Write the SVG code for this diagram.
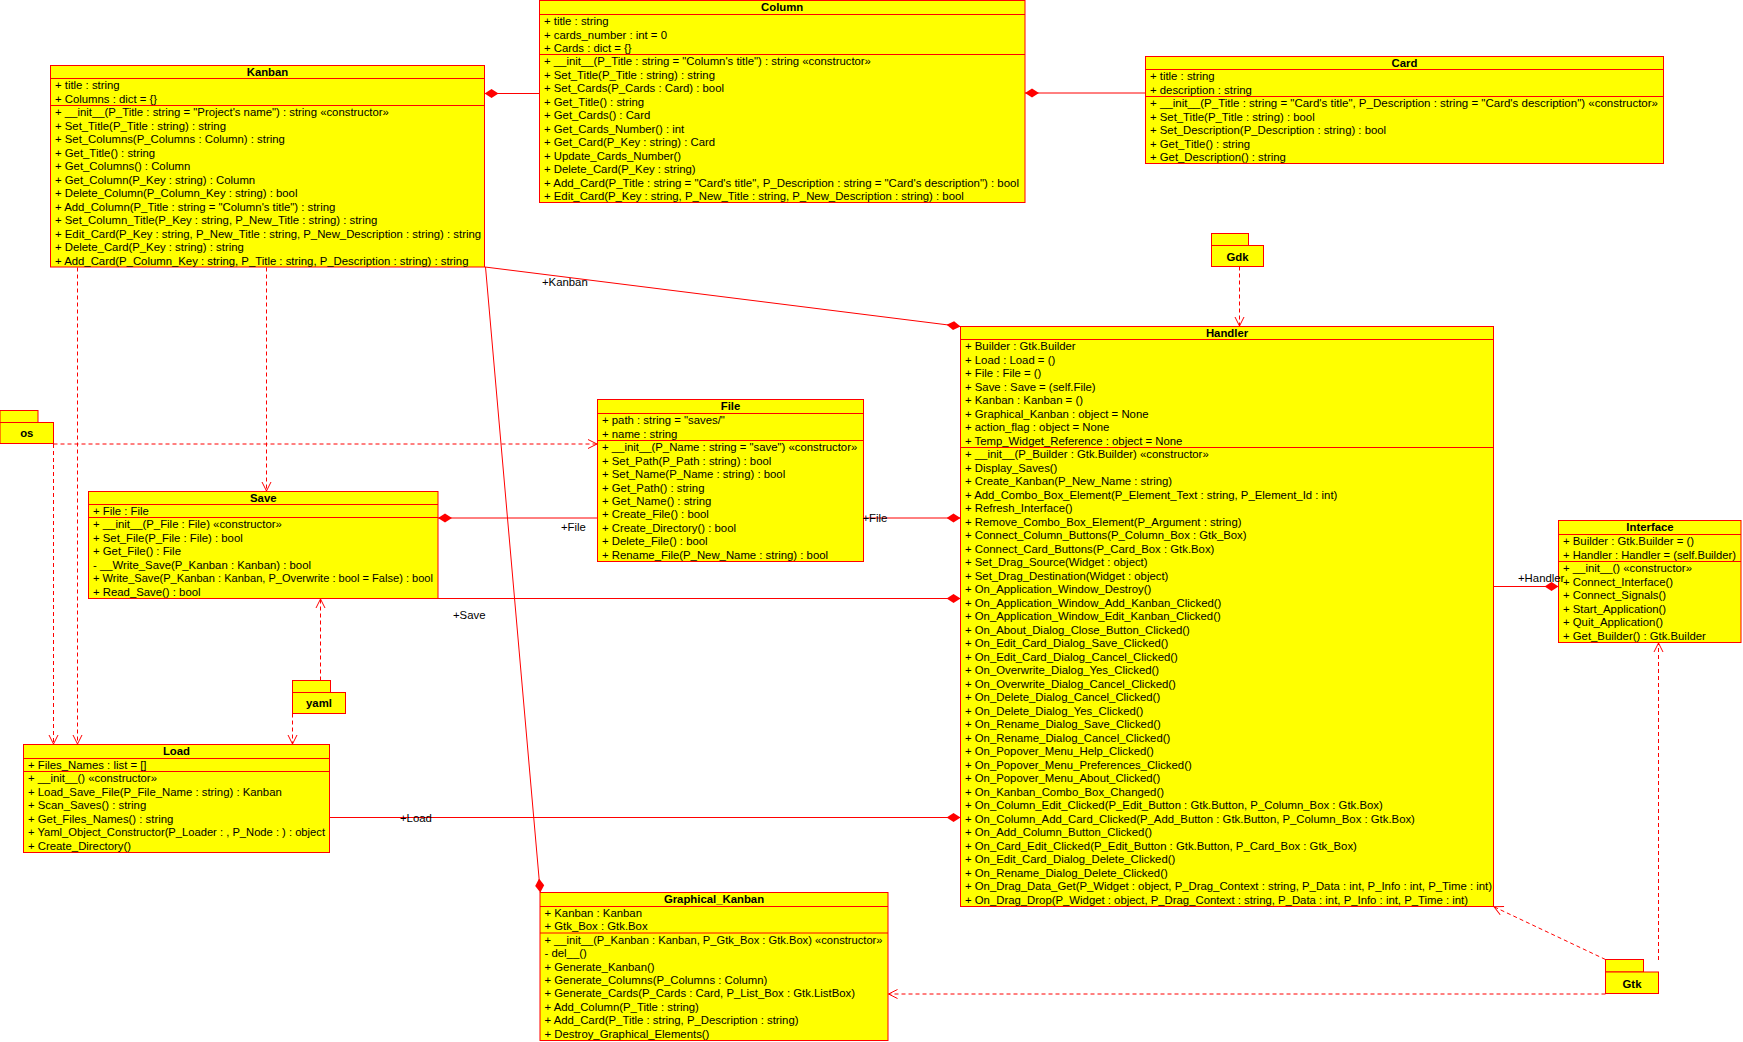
<svg xmlns="http://www.w3.org/2000/svg" width="1743" height="1042" viewBox="0 0 1743 1042">
<style>
.box{fill:#ffff00;stroke:#ff0000;stroke-width:1}
.sep{stroke:#ff0000;stroke-width:1}
.t{font-family:"Liberation Sans",Arial,sans-serif;font-size:11.35px;fill:#000}
.h{font-weight:bold;text-anchor:middle}
.assoc{stroke:#ff0000;stroke-width:1;fill:none;marker-end:url(#diamond)}
.dep{stroke:#ff0000;stroke-width:1;fill:none;stroke-dasharray:4 3;marker-end:url(#open)}
</style>
<defs>
<marker id="diamond" viewBox="0 -5 14 10" markerWidth="14" markerHeight="10" refX="14" refY="0" orient="auto" markerUnits="userSpaceOnUse">
<path d="M0,0 L7,-4.5 L14,0 L7,4.5 Z" fill="#ff0000"/>
</marker>
<marker id="open" viewBox="-10 -6 11 12" markerWidth="11" markerHeight="12" refX="0" refY="0" orient="auto" markerUnits="userSpaceOnUse">
<path d="M-9,-4.5 L0,0 L-9,4.5" fill="none" stroke="#ff0000" stroke-width="1" stroke-dasharray="none"/>
</marker>
</defs>
<rect width="1743" height="1042" fill="#ffffff"/>

<!-- Kanban -->
<g id="kanban">
<rect class="box" x="50.5" y="65.5" width="434" height="201.5"/>
<line class="sep" x1="50.5" y1="78.5" x2="484.5" y2="78.5"/>
<line class="sep" x1="50.5" y1="105.5" x2="484.5" y2="105.5"/>
<text class="t h" x="267.5" y="76">Kanban</text>
<text class="t"><tspan x="55" y="89.3">+ title : string</tspan><tspan x="55" dy="13.3">+ Columns : dict = {}</tspan></text>
<text class="t"><tspan x="55" y="116.1">+ __init__(P_Title : string = "Project's name") : string «constructor»</tspan><tspan x="55" dy="13.5">+ Set_Title(P_Title : string) : string</tspan><tspan x="55" dy="13.5">+ Set_Columns(P_Columns : Column) : string</tspan><tspan x="55" dy="13.5">+ Get_Title() : string</tspan><tspan x="55" dy="13.5">+ Get_Columns() : Column</tspan><tspan x="55" dy="13.5">+ Get_Column(P_Key : string) : Column</tspan><tspan x="55" dy="13.5">+ Delete_Column(P_Column_Key : string) : bool</tspan><tspan x="55" dy="13.5">+ Add_Column(P_Title : string = "Column's title") : string</tspan><tspan x="55" dy="13.5">+ Set_Column_Title(P_Key : string, P_New_Title : string) : string</tspan><tspan x="55" dy="13.5">+ Edit_Card(P_Key : string, P_New_Title : string, P_New_Description : string) : string</tspan><tspan x="55" dy="13.5">+ Delete_Card(P_Key : string) : string</tspan><tspan x="55" dy="13.5">+ Add_Card(P_Column_Key : string, P_Title : string, P_Description : string) : string</tspan></text>
</g>

<!-- Column -->
<g id="column">
<rect class="box" x="539.5" y="0.5" width="485.5" height="202"/>
<line class="sep" x1="539.5" y1="14.5" x2="1025" y2="14.5"/>
<line class="sep" x1="539.5" y1="54.5" x2="1025" y2="54.5"/>
<text class="t h" x="782.2" y="11">Column</text>
<text class="t"><tspan x="544" y="25.3">+ title : string</tspan><tspan x="544" dy="13.2">+ cards_number : int = 0</tspan><tspan x="544" dy="13.2">+ Cards : dict = {}</tspan></text>
<text class="t"><tspan x="544" y="65.1">+ __init__(P_Title : string = "Column's title") : string «constructor»</tspan><tspan x="544" dy="13.5">+ Set_Title(P_Title : string) : string</tspan><tspan x="544" dy="13.5">+ Set_Cards(P_Cards : Card) : bool</tspan><tspan x="544" dy="13.5">+ Get_Title() : string</tspan><tspan x="544" dy="13.5">+ Get_Cards() : Card</tspan><tspan x="544" dy="13.5">+ Get_Cards_Number() : int</tspan><tspan x="544" dy="13.5">+ Get_Card(P_Key : string) : Card</tspan><tspan x="544" dy="13.5">+ Update_Cards_Number()</tspan><tspan x="544" dy="13.5">+ Delete_Card(P_Key : string)</tspan></text>
<text class="t" x="544" y="186.6" textLength="475" lengthAdjust="spacingAndGlyphs">+ Add_Card(P_Title : string = "Card's title", P_Description : string = "Card's description") : bool</text>
<text class="t" x="544" y="200.1">+ Edit_Card(P_Key : string, P_New_Title : string, P_New_Description : string) : bool</text>
</g>

<!-- Card -->
<g id="card">
<rect class="box" x="1145.5" y="56.5" width="518" height="107"/>
<line class="sep" x1="1145.5" y1="69.5" x2="1663.5" y2="69.5"/>
<line class="sep" x1="1145.5" y1="96.5" x2="1663.5" y2="96.5"/>
<text class="t h" x="1404.5" y="66.5">Card</text>
<text class="t"><tspan x="1150" y="80">+ title : string</tspan><tspan x="1150" dy="13.5">+ description : string</tspan></text>
<text class="t" x="1150" y="107.1" textLength="508" lengthAdjust="spacingAndGlyphs">+ __init__(P_Title : string = "Card's title", P_Description : string = "Card's description") «constructor»</text>
<text class="t"><tspan x="1150" y="120.6">+ Set_Title(P_Title : string) : bool</tspan><tspan x="1150" dy="13.5">+ Set_Description(P_Description : string) : bool</tspan><tspan x="1150" dy="13.5">+ Get_Title() : string</tspan><tspan x="1150" dy="13.5">+ Get_Description() : string</tspan></text>
</g>

<!-- File -->
<g id="file">
<rect class="box" x="597.5" y="399.5" width="266" height="162"/>
<line class="sep" x1="597.5" y1="413.5" x2="863.5" y2="413.5"/>
<line class="sep" x1="597.5" y1="440.5" x2="863.5" y2="440.5"/>
<text class="t h" x="730.5" y="410">File</text>
<text class="t"><tspan x="602" y="424.4">+ path : string = "saves/"</tspan><tspan x="602" dy="13.5">+ name : string</tspan></text>
<text class="t"><tspan x="602" y="451.4">+ __init__(P_Name : string = "save") «constructor»</tspan><tspan x="602" dy="13.4">+ Set_Path(P_Path : string) : bool</tspan><tspan x="602" dy="13.4">+ Set_Name(P_Name : string) : bool</tspan><tspan x="602" dy="13.4">+ Get_Path() : string</tspan><tspan x="602" dy="13.4">+ Get_Name() : string</tspan><tspan x="602" dy="13.4">+ Create_File() : bool</tspan><tspan x="602" dy="13.4">+ Create_Directory() : bool</tspan><tspan x="602" dy="13.4">+ Delete_File() : bool</tspan><tspan x="602" dy="13.4">+ Rename_File(P_New_Name : string) : bool</tspan></text>
</g>

<!-- Save -->
<g id="save">
<rect class="box" x="88.5" y="491.5" width="349.5" height="107"/>
<line class="sep" x1="88.5" y1="504.5" x2="438" y2="504.5"/>
<line class="sep" x1="88.5" y1="517.5" x2="438" y2="517.5"/>
<text class="t h" x="263.3" y="501.5">Save</text>
<text class="t"><tspan x="93" y="515">+ File : File</tspan></text>
<text class="t"><tspan x="93" y="528.1">+ __init__(P_File : File) «constructor»</tspan><tspan x="93" dy="13.5">+ Set_File(P_File : File) : bool</tspan><tspan x="93" dy="13.5">+ Get_File() : File</tspan><tspan x="93" dy="13.5">- __Write_Save(P_Kanban : Kanban) : bool</tspan></text>
<text class="t" x="93" y="582.1" textLength="340" lengthAdjust="spacingAndGlyphs">+ Write_Save(P_Kanban : Kanban, P_Overwrite : bool = False) : bool</text>
<text class="t" x="93" y="595.6">+ Read_Save() : bool</text>
</g>

<!-- Handler -->
<g id="handler">
<rect class="box" x="960.5" y="326.5" width="533" height="580"/>
<line class="sep" x1="960.5" y1="339.5" x2="1493.5" y2="339.5"/>
<line class="sep" x1="960.5" y1="447.5" x2="1493.5" y2="447.5"/>
<text class="t h" x="1227" y="337">Handler</text>
<text class="t"><tspan x="965" y="350.1">+ Builder : Gtk.Builder</tspan><tspan x="965" dy="13.5">+ Load : Load = ()</tspan><tspan x="965" dy="13.5">+ File : File = ()</tspan><tspan x="965" dy="13.5">+ Save : Save = (self.File)</tspan><tspan x="965" dy="13.5">+ Kanban : Kanban = ()</tspan><tspan x="965" dy="13.5">+ Graphical_Kanban : object = None</tspan><tspan x="965" dy="13.5">+ action_flag : object = None</tspan><tspan x="965" dy="13.5">+ Temp_Widget_Reference : object = None</tspan></text>
<text class="t"><tspan x="965" y="458.1">+ __init__(P_Builder : Gtk.Builder) «constructor»</tspan><tspan x="965" dy="13.5">+ Display_Saves()</tspan><tspan x="965" dy="13.5">+ Create_Kanban(P_New_Name : string)</tspan><tspan x="965" dy="13.5">+ Add_Combo_Box_Element(P_Element_Text : string, P_Element_Id : int)</tspan><tspan x="965" dy="13.5">+ Refresh_Interface()</tspan><tspan x="965" dy="13.5">+ Remove_Combo_Box_Element(P_Argument : string)</tspan><tspan x="965" dy="13.5">+ Connect_Column_Buttons(P_Column_Box : Gtk_Box)</tspan><tspan x="965" dy="13.5">+ Connect_Card_Buttons(P_Card_Box : Gtk.Box)</tspan><tspan x="965" dy="13.5">+ Set_Drag_Source(Widget : object)</tspan><tspan x="965" dy="13.5">+ Set_Drag_Destination(Widget : object)</tspan><tspan x="965" dy="13.5">+ On_Application_Window_Destroy()</tspan><tspan x="965" dy="13.5">+ On_Application_Window_Add_Kanban_Clicked()</tspan><tspan x="965" dy="13.5">+ On_Application_Window_Edit_Kanban_Clicked()</tspan><tspan x="965" dy="13.5">+ On_About_Dialog_Close_Button_Clicked()</tspan><tspan x="965" dy="13.5">+ On_Edit_Card_Dialog_Save_Clicked()</tspan><tspan x="965" dy="13.5">+ On_Edit_Card_Dialog_Cancel_Clicked()</tspan><tspan x="965" dy="13.5">+ On_Overwrite_Dialog_Yes_Clicked()</tspan><tspan x="965" dy="13.5">+ On_Overwrite_Dialog_Cancel_Clicked()</tspan><tspan x="965" dy="13.5">+ On_Delete_Dialog_Cancel_Clicked()</tspan><tspan x="965" dy="13.5">+ On_Delete_Dialog_Yes_Clicked()</tspan><tspan x="965" dy="13.5">+ On_Rename_Dialog_Save_Clicked()</tspan><tspan x="965" dy="13.5">+ On_Rename_Dialog_Cancel_Clicked()</tspan><tspan x="965" dy="13.5">+ On_Popover_Menu_Help_Clicked()</tspan><tspan x="965" dy="13.5">+ On_Popover_Menu_Preferences_Clicked()</tspan><tspan x="965" dy="13.5">+ On_Popover_Menu_About_Clicked()</tspan><tspan x="965" dy="13.5">+ On_Kanban_Combo_Box_Changed()</tspan><tspan x="965" dy="13.5">+ On_Column_Edit_Clicked(P_Edit_Button : Gtk.Button, P_Column_Box : Gtk.Box)</tspan><tspan x="965" dy="13.5">+ On_Column_Add_Card_Clicked(P_Add_Button : Gtk.Button, P_Column_Box : Gtk.Box)</tspan><tspan x="965" dy="13.5">+ On_Add_Column_Button_Clicked()</tspan><tspan x="965" dy="13.5">+ On_Card_Edit_Clicked(P_Edit_Button : Gtk.Button, P_Card_Box : Gtk_Box)</tspan><tspan x="965" dy="13.5">+ On_Edit_Card_Dialog_Delete_Clicked()</tspan><tspan x="965" dy="13.5">+ On_Rename_Dialog_Delete_Clicked()</tspan><tspan x="965" dy="13.5">+ On_Drag_Data_Get(P_Widget : object, P_Drag_Context : string, P_Data : int, P_Info : int, P_Time : int)</tspan><tspan x="965" dy="13.5">+ On_Drag_Drop(P_Widget : object, P_Drag_Context : string, P_Data : int, P_Info : int, P_Time : int)</tspan></text>
</g>

<!-- Interface -->
<g id="interface">
<rect class="box" x="1558.5" y="520.5" width="182.5" height="122"/>
<line class="sep" x1="1558.5" y1="534.5" x2="1741" y2="534.5"/>
<line class="sep" x1="1558.5" y1="561.5" x2="1741" y2="561.5"/>
<text class="t h" x="1650" y="531">Interface</text>
<text class="t"><tspan x="1563" y="545.1">+ Builder : Gtk.Builder = ()</tspan></text>
<text class="t" x="1563" y="558.6" textLength="173" lengthAdjust="spacingAndGlyphs">+ Handler : Handler = (self.Builder)</text>
<text class="t"><tspan x="1563" y="572.1">+ __init__() «constructor»</tspan><tspan x="1563" dy="13.5">+ Connect_Interface()</tspan><tspan x="1563" dy="13.5">+ Connect_Signals()</tspan><tspan x="1563" dy="13.5">+ Start_Application()</tspan><tspan x="1563" dy="13.5">+ Quit_Application()</tspan><tspan x="1563" dy="13.5">+ Get_Builder() : Gtk.Builder</tspan></text>
</g>

<!-- Load -->
<g id="load">
<rect class="box" x="23.5" y="744.5" width="306" height="108"/>
<line class="sep" x1="23.5" y1="758.5" x2="329.5" y2="758.5"/>
<line class="sep" x1="23.5" y1="771.5" x2="329.5" y2="771.5"/>
<text class="t h" x="176.5" y="755">Load</text>
<text class="t"><tspan x="28" y="769.2">+ Files_Names : list = []</tspan></text>
<text class="t"><tspan x="28" y="782.4">+ __init__() «constructor»</tspan><tspan x="28" dy="13.43">+ Load_Save_File(P_File_Name : string) : Kanban</tspan><tspan x="28" dy="13.43">+ Scan_Saves() : string</tspan><tspan x="28" dy="13.43">+ Get_Files_Names() : string</tspan></text>
<text class="t" x="28" y="836.1" textLength="297" lengthAdjust="spacingAndGlyphs">+ Yaml_Object_Constructor(P_Loader : , P_Node : ) : object</text>
<text class="t" x="28" y="849.5">+ Create_Directory()</text>
</g>

<!-- Graphical_Kanban -->
<g id="graphical-kanban">
<rect class="box" x="540" y="892.5" width="348" height="148"/>
<line class="sep" x1="540" y1="906.5" x2="888" y2="906.5"/>
<line class="sep" x1="540" y1="933" x2="888" y2="933"/>
<text class="t h" x="714" y="903">Graphical_Kanban</text>
<text class="t"><tspan x="544.5" y="917">+ Kanban : Kanban</tspan><tspan x="544.5" dy="13.35">+ Gtk_Box : Gtk.Box</tspan></text>
<text class="t" x="544.5" y="943.7" textLength="338" lengthAdjust="spacingAndGlyphs">+ __init__(P_Kanban : Kanban, P_Gtk_Box : Gtk.Box) «constructor»</text>
<text class="t"><tspan x="544.5" y="957.14">- del__()</tspan><tspan x="544.5" dy="13.44">+ Generate_Kanban()</tspan><tspan x="544.5" dy="13.44">+ Generate_Columns(P_Columns : Column)</tspan><tspan x="544.5" dy="13.44">+ Generate_Cards(P_Cards : Card, P_List_Box : Gtk.ListBox)</tspan><tspan x="544.5" dy="13.44">+ Add_Column(P_Title : string)</tspan><tspan x="544.5" dy="13.44">+ Add_Card(P_Title : string, P_Description : string)</tspan><tspan x="544.5" dy="13.44">+ Destroy_Graphical_Elements()</tspan></text>
</g>

<!-- packages -->
<g id="pkg-os">
<rect class="box" x="0" y="410.5" width="38" height="12"/>
<rect class="box" x="0" y="422.5" width="53.5" height="21"/>
<text class="t h" x="26.8" y="437">os</text>
</g>
<g id="pkg-yaml">
<rect class="box" x="292.5" y="680.5" width="38" height="12"/>
<rect class="box" x="292.5" y="692.5" width="53" height="21"/>
<text class="t h" x="319" y="707">yaml</text>
</g>
<g id="pkg-gdk">
<rect class="box" x="1211.5" y="233.5" width="37" height="12"/>
<rect class="box" x="1211.5" y="245.5" width="52" height="21"/>
<text class="t h" x="1237.5" y="260.5">Gdk</text>
</g>
<g id="pkg-gtk">
<rect class="box" x="1605.5" y="959.5" width="38" height="12.5"/>
<rect class="box" x="1605.5" y="972" width="53" height="21.5"/>
<text class="t h" x="1632" y="987.5">Gtk</text>
</g>

<!-- associations and dependencies -->
<g id="connectors">
<line class="assoc" x1="539.5" y1="93.5" x2="484.5" y2="93.5"/>
<line class="assoc" x1="1145.5" y1="93" x2="1025" y2="93"/>
<line class="assoc" x1="485" y1="267" x2="960.5" y2="326.5"/>
<line class="assoc" x1="485.5" y1="267" x2="540.3" y2="892.5"/>
<line class="assoc" x1="597.5" y1="518" x2="438" y2="518"/>
<line class="assoc" x1="863.5" y1="518" x2="960.5" y2="518"/>
<line class="assoc" x1="438" y1="598.5" x2="960.5" y2="598.5"/>
<line class="assoc" x1="329.5" y1="817.5" x2="960.5" y2="817.5"/>
<line class="assoc" x1="1493.5" y1="586.5" x2="1558.5" y2="586.5"/>
<text class="t" x="542" y="286">+Kanban</text>
<text class="t" x="561" y="531">+File</text>
<text class="t" x="862.5" y="522">+File</text>
<text class="t" x="453" y="619">+Save</text>
<text class="t" x="400" y="822">+Load</text>
<text class="t" x="1518" y="582">+Handler</text>

<line class="dep" x1="53.5" y1="444" x2="597" y2="444"/>
<line class="dep" x1="53.5" y1="444" x2="53.5" y2="744"/>
<line class="dep" x1="77.5" y1="267.5" x2="77.5" y2="744"/>
<line class="dep" x1="266.5" y1="267.5" x2="266.5" y2="491"/>
<line class="dep" x1="320.5" y1="680.5" x2="320.5" y2="599"/>
<line class="dep" x1="292.5" y1="713.5" x2="292.5" y2="744"/>
<line class="dep" x1="1239.5" y1="266.5" x2="1239.5" y2="326"/>
<line class="dep" x1="1605.5" y1="959.5" x2="1494" y2="906.8"/>
<line class="dep" x1="1605.5" y1="994" x2="888.5" y2="994"/>
<line class="dep" x1="1658.5" y1="960" x2="1658.5" y2="643"/>
</g>
</svg>
